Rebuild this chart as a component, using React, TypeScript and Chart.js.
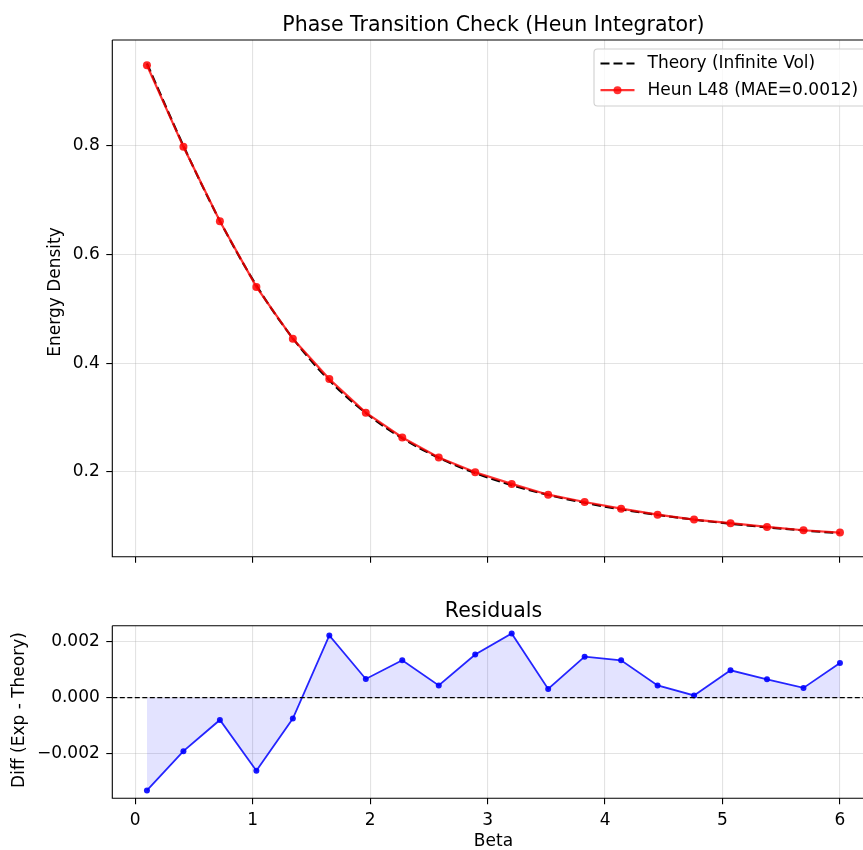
import React, { useEffect, useRef } from 'react';
import { Chart, registerables } from 'chart.js';

Chart.register(...registerables);

// Inverse coupling values where the lattice energy was sampled
const betas = [
  0.1, 0.4105, 0.7211, 1.0316, 1.3421, 1.6526, 1.9632, 2.2737, 2.5842, 2.8947,
  3.2053, 3.5158, 3.8263, 4.1368, 4.4474, 4.7579, 5.0684, 5.3789, 5.6895, 6.0,
];

// Infinite-volume energy density
const theoryEnergy = [
  0.95006, 0.79894, 0.66104, 0.54253, 0.44539, 0.36836, 0.30837, 0.26204, 0.22615, 0.1981,
  0.17591, 0.15807, 0.14349, 0.13142, 0.12123, 0.11253, 0.10506, 0.09851, 0.09274, 0.08764,
];

// Heun integrator, L = 48
const heunEnergy = [
  0.94673, 0.79702, 0.66024, 0.53991, 0.44464, 0.37059, 0.30904, 0.26338, 0.22659, 0.19965,
  0.17821, 0.15838, 0.14496, 0.13276, 0.12167, 0.11261, 0.10604, 0.09917, 0.09309, 0.08888,
];

const xTicks = [0, 1, 2, 3, 4, 5, 6];
const energyTicks = [0.2, 0.4, 0.6, 0.8];
const residualTicks = [-0.002, 0, 0.002];

const residuals = heunEnergy.map((v, i) => v - theoryEnergy[i]);
const mae = residuals.reduce((s, r) => s + Math.abs(r), 0) / residuals.length;

const FONT = '"DejaVu Sans", Verdana, sans-serif';
const GRID = 'rgba(176,176,176,0.35)';
const W = 863;
const TOP_H = 590;
const BOTTOM_H = 260;

// plot-area geometry: the axes frame runs past the right edge of the figure
const AX_LEFT = 112.3;
const AX_RIGHT_FULL = 874.6;

// autoscale with 5% margins on each side
const padRange = (vals: number[]) => {
  const lo = Math.min(...vals);
  const hi = Math.max(...vals);
  const m = (hi - lo) * 0.05;
  return [lo - m, hi + m];
};

const [X_MIN, X_MAX] = padRange(betas);
// part of the x-range that stays inside the figure width
const X_VIS_MAX = X_MIN + ((X_MAX - X_MIN) * (W - AX_LEFT)) / (AX_RIGHT_FULL - AX_LEFT);
const [E_MIN, E_MAX] = padRange([...theoryEnergy, ...heunEnergy]);
const [R_MIN, R_MAX] = padRange(residuals);

const fmt = (v: number, d: number) => {
  const s = Math.abs(v).toFixed(d);
  return v < -1e-12 ? '\u2212' + s : s;
};

const decorPlugin = {
  id: 'decor',
  afterDraw(chart: any, _args: any, opts: any) {
    const { ctx, chartArea: a } = chart;
    const cx = (AX_LEFT + AX_RIGHT_FULL) / 2;
    ctx.save();
    ctx.strokeStyle = '#000';
    ctx.lineWidth = 1.1;
    ctx.beginPath();
    ctx.moveTo(a.left, a.top);
    ctx.lineTo(a.right, a.top);
    ctx.stroke();
    ctx.beginPath();
    ctx.moveTo(a.left, a.top);
    ctx.lineTo(a.left, a.bottom);
    ctx.lineTo(a.right, a.bottom);
    ctx.stroke();

    ctx.fillStyle = '#000';
    ctx.textAlign = 'center';
    ctx.textBaseline = 'alphabetic';
    ctx.font = `20.5px ${FONT}`;
    ctx.fillText(opts.title, cx, a.top - 9);

    ctx.font = `17px ${FONT}`;
    if (opts.xLabel) {
      ctx.textBaseline = 'middle';
      ctx.fillText(opts.xLabel, cx, opts.xLabelY);
    }
    ctx.save();
    ctx.translate(opts.yLabelX, opts.yLabelY);
    ctx.rotate(-Math.PI / 2);
    ctx.textBaseline = 'middle';
    ctx.fillText(opts.yLabel, 0, 0);
    ctx.restore();

    if (opts.legend) {
      const L = opts.legend;
      const left = L.left;
      const top = a.top + 9;
      const right = AX_RIGHT_FULL - 8.3;
      const bottom = top + 57;
      const r = 3.5;
      ctx.beginPath();
      ctx.moveTo(left + r, top);
      ctx.lineTo(right - r, top);
      ctx.arcTo(right, top, right, top + r, r);
      ctx.lineTo(right, bottom - r);
      ctx.arcTo(right, bottom, right - r, bottom, r);
      ctx.lineTo(left + r, bottom);
      ctx.arcTo(left, bottom, left, bottom - r, r);
      ctx.lineTo(left, top + r);
      ctx.arcTo(left, top, left + r, top, r);
      ctx.closePath();
      ctx.fillStyle = 'rgba(255,255,255,0.8)';
      ctx.fill();
      ctx.strokeStyle = '#d0d0d0';
      ctx.lineWidth = 1.1;
      ctx.stroke();

      const hx0 = left + 6.5;
      const hx1 = hx0 + 34;
      const tx = hx1 + 13;
      L.items.forEach((it: any, i: number) => {
        const cy = top + 14.5 + i * 26.7;
        ctx.save();
        ctx.strokeStyle = it.color;
        ctx.lineWidth = 2.2;
        ctx.setLineDash(it.dash || []);
        ctx.beginPath();
        ctx.moveTo(hx0, cy);
        ctx.lineTo(hx1, cy);
        ctx.stroke();
        ctx.restore();
        if (it.marker) {
          ctx.fillStyle = it.color;
          ctx.beginPath();
          ctx.arc((hx0 + hx1) / 2, cy, 4, 0, Math.PI * 2);
          ctx.fill();
        }
        ctx.fillStyle = '#000';
        ctx.textAlign = 'left';
        ctx.textBaseline = 'middle';
        ctx.font = `17px ${FONT}`;
        ctx.fillText(it.label, tx, cy);
      });
    }
    ctx.restore();
  },
};

const xScale = (height: number, showLabels: boolean) => ({
  type: 'linear',
  min: X_MIN,
  max: X_VIS_MAX,
  afterBuildTicks: (s: any) => {
    s.ticks = xTicks.map((v) => ({ value: v }));
  },
  afterFit: (s: any) => {
    s.height = height;
    // the plot area is fixed; keep tick labels from shrinking it
    s.paddingLeft = 0;
    s.paddingRight = 0;
  },
  grid: { color: GRID, lineWidth: 1.1, tickColor: '#000', tickLength: 6, drawTicks: true },
  border: { display: false },
  ticks: {
    color: '#000',
    font: { family: FONT, size: 17 },
    padding: 6,
    maxRotation: 0,
    autoSkip: false,
    callback: (v: number) => (showLabels ? String(v) : ''),
  },
});

const yScale = (min: number, max: number, ticks: number[], digits: number) => ({
  type: 'linear',
  min,
  max,
  afterBuildTicks: (s: any) => {
    s.ticks = ticks.map((v) => ({ value: v }));
  },
  afterFit: (s: any) => {
    s.width = AX_LEFT;
    s.paddingTop = 0;
    s.paddingBottom = 0;
  },
  grid: { color: GRID, lineWidth: 1.1, tickColor: '#000', tickLength: 6, drawTicks: true },
  border: { display: false },
  ticks: {
    color: '#000',
    font: { family: FONT, size: 17 },
    padding: 6.5,
    autoSkip: false,
    callback: (v: number) => fmt(v, digits),
  },
});

export default function App() {
  const topRef = useRef<HTMLCanvasElement>(null);
  const bottomRef = useRef<HTMLCanvasElement>(null);

  useEffect(() => {
    const heunLabel = `Heun L48 (MAE=${mae.toFixed(4)})`;

    const top = new Chart(topRef.current as HTMLCanvasElement, {
      type: 'line',
      data: {
        datasets: [
          {
            label: heunLabel,
            data: betas.map((b, i) => ({ x: b, y: heunEnergy[i] })),
            borderColor: 'rgba(255,0,0,0.8)',
            backgroundColor: 'rgba(255,0,0,0.8)',
            borderWidth: 2.2,
            pointRadius: 4,
            pointBorderWidth: 0,
            pointBackgroundColor: 'rgba(255,0,0,0.85)',
            tension: 0,
            order: 0,
          },
          {
            label: 'Theory (Infinite Vol)',
            data: betas.map((b, i) => ({ x: b, y: theoryEnergy[i] })),
            borderColor: '#000',
            borderWidth: 2.2,
            borderDash: [9, 4],
            pointRadius: 0,
            cubicInterpolationMode: 'monotone',
            order: 1,
          },
        ],
      },
      options: {
        animation: false,
        responsive: false,
        events: [],
        layout: { autoPadding: false, padding: { left: 0, top: 40, right: 0, bottom: 0 } },
        plugins: {
          legend: { display: false },
          tooltip: { enabled: false },
          decor: {
            title: 'Phase Transition Check (Heun Integrator)',
            yLabel: 'Energy Density',
            yLabelX: 56,
            yLabelY: 292,
            legend: {
              left: 594,
              items: [
                { label: 'Theory (Infinite Vol)', color: '#000', dash: [9, 4] },
                { label: heunLabel, color: 'rgba(255,0,0,0.8)', marker: true },
              ],
            },
          },
        } as any,
        scales: {
          x: xScale(TOP_H - 556.7, false),
          y: yScale(E_MIN, E_MAX, energyTicks, 1),
        } as any,
      },
      plugins: [decorPlugin],
    } as any);

    const bottom = new Chart(bottomRef.current as HTMLCanvasElement, {
      type: 'line',
      data: {
        datasets: [
          {
            label: 'zero',
            data: [
              { x: X_MIN, y: 0 },
              { x: X_MAX, y: 0 },
            ],
            borderColor: '#000',
            borderWidth: 1.2,
            borderDash: [5, 2.5],
            pointRadius: 0,
            order: 0,
          },
          {
            label: 'residual',
            data: betas.map((b, i) => ({ x: b, y: residuals[i] })),
            borderColor: 'rgba(0,0,255,0.85)',
            backgroundColor: 'rgba(0,0,255,0.11)',
            fill: 'origin',
            borderWidth: 1.8,
            pointRadius: 3,
            pointBorderWidth: 0,
            pointBackgroundColor: 'rgba(0,0,255,0.9)',
            tension: 0,
            order: 1,
          },
        ],
      },
      options: {
        animation: false,
        responsive: false,
        events: [],
        layout: { autoPadding: false, padding: { left: 0, top: 625.7 - TOP_H, right: 0, bottom: 0 } },
        plugins: {
          legend: { display: false },
          tooltip: { enabled: false },
          decor: {
            title: 'Residuals',
            yLabel: 'Diff (Exp - Theory)',
            yLabelX: 20,
            yLabelY: 710 - TOP_H,
            xLabel: 'Beta',
            xLabelY: 842 - TOP_H,
          },
        } as any,
        scales: {
          x: xScale(850 - 798.3, true),
          y: yScale(R_MIN, R_MAX, residualTicks, 3),
        } as any,
      },
      plugins: [decorPlugin],
    } as any);

    return () => {
      top.destroy();
      bottom.destroy();
    };
  }, []);

  return (
    <div
      style={{
        position: 'absolute',
        left: 0,
        top: 0,
        width: W,
        height: 850,
        overflow: 'hidden',
        background: '#fff',
      }}
    >
      <canvas
        ref={topRef}
        width={W}
        height={TOP_H}
        style={{ position: 'absolute', left: 0, top: 0, display: 'block' }}
      />
      <canvas
        ref={bottomRef}
        width={W}
        height={BOTTOM_H}
        style={{ position: 'absolute', left: 0, top: TOP_H, display: 'block' }}
      />
    </div>
  );
}
